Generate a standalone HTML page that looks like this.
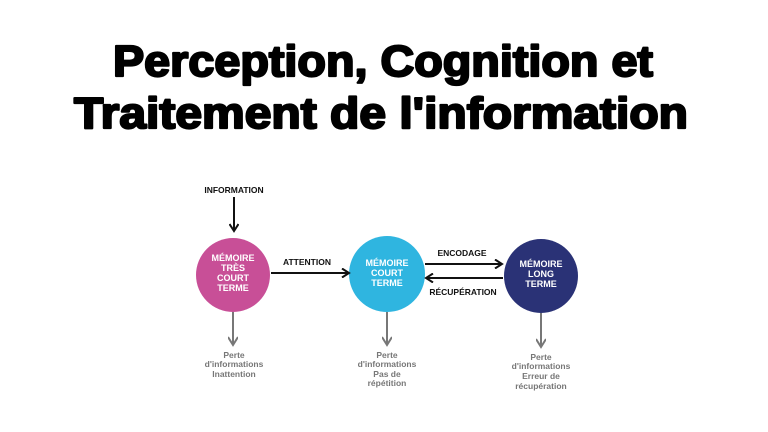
<!DOCTYPE html>
<html><head><meta charset="utf-8"><style>
html,body{margin:0;padding:0;background:#fff;}
svg{display:block}
</style></head><body>
<svg width="768" height="432" viewBox="0 0 768 432" xmlns="http://www.w3.org/2000/svg" font-family="Liberation Sans, sans-serif">
<defs>
<marker id="ab" markerWidth="10" markerHeight="10" refX="8" refY="5" orient="auto" markerUnits="userSpaceOnUse"><path d="M1,0.5 L8,5 L1,9.5" fill="none" stroke="#111" stroke-width="2"/></marker>
<marker id="ag" markerWidth="12" markerHeight="10" refX="9" refY="5" orient="auto" markerUnits="userSpaceOnUse"><path d="M1,0 L9,5 L1,10" fill="none" stroke="#777" stroke-width="2"/></marker>
</defs>
<g font-weight="900" fill="#000" stroke="#000" stroke-width="2.2" stroke-linejoin="round">
<text x="383" y="76" font-size="44" text-anchor="middle" textLength="540" lengthAdjust="spacingAndGlyphs">Perception, Cognition et</text>
<text x="381" y="128" font-size="44" text-anchor="middle" textLength="614" lengthAdjust="spacingAndGlyphs">Traitement de l'information</text>
</g>
<circle cx="233" cy="275" r="37" fill="#c84f97"/>
<circle cx="387" cy="274" r="38" fill="#2fb5e0"/>
<circle cx="541" cy="276" r="37" fill="#2a3276"/>
<g stroke="#111" stroke-width="2" fill="none">
<line x1="234" y1="197" x2="234" y2="231" marker-end="url(#ab)"/>
<line x1="271" y1="273" x2="349" y2="273" marker-end="url(#ab)"/>
<line x1="425" y1="264" x2="502" y2="264" marker-end="url(#ab)"/>
<line x1="503" y1="278" x2="426" y2="278" marker-end="url(#ab)"/>
</g>
<g stroke="#777" stroke-width="2" fill="none">
<line x1="233" y1="312" x2="233" y2="345" marker-end="url(#ag)"/>
<line x1="387" y1="312" x2="387" y2="345" marker-end="url(#ag)"/>
<line x1="541" y1="313" x2="541" y2="347" marker-end="url(#ag)"/>
</g>
<g font-size="8.5" font-weight="bold" fill="#111" text-anchor="middle">
<text x="234" y="193">INFORMATION</text>
<text x="307" y="265">ATTENTION</text>
<text x="462" y="256">ENCODAGE</text>
<text x="463" y="295">RÉCUPÉRATION</text>
</g>
<g font-size="9" font-weight="bold" fill="#fff" text-anchor="middle">
<text x="233" y="261">MÉMOIRE</text>
<text x="233" y="271">TRÈS</text>
<text x="233" y="281">COURT</text>
<text x="233" y="291">TERME</text>
<text x="387" y="266">MÉMOIRE</text>
<text x="387" y="276">COURT</text>
<text x="387" y="286">TERME</text>
<text x="541" y="267">MÉMOIRE</text>
<text x="541" y="277">LONG</text>
<text x="541" y="287">TERME</text>
</g>
<g font-size="8.5" font-weight="bold" fill="#777" text-anchor="middle">
<text x="234" y="358">Perte</text>
<text x="234" y="367">d'informations</text>
<text x="234" y="377">Inattention</text>
<text x="387" y="358">Perte</text>
<text x="387" y="367">d'informations</text>
<text x="387" y="377">Pas de</text>
<text x="387" y="386">répétition</text>
<text x="541" y="360">Perte</text>
<text x="541" y="369">d'informations</text>
<text x="541" y="379">Erreur de</text>
<text x="541" y="389">récupération</text>
</g>
</svg>
</body></html>
